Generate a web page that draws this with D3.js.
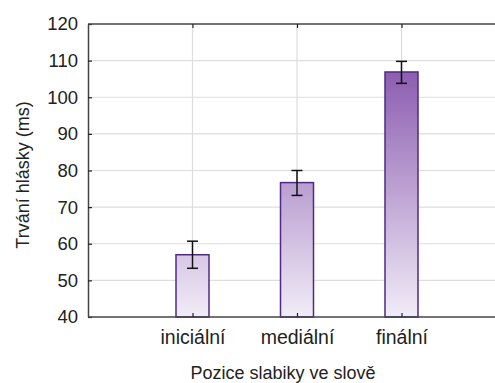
<!DOCTYPE html>
<html>
<head>
<meta charset="utf-8">
<script src="https://cdn.jsdelivr.net/npm/d3@7"></script>
<style>
  body { margin: 0; background: #fff; }
  text { font-family: "Liberation Sans", Arial, sans-serif; fill: #222; }
</style>
</head>
<body>
<svg id="chart" width="495" height="383"></svg>
<script>
const categories = ["iniciální", "mediální", "finální"];
const means = [57.0, 76.7, 106.9];
const errUpper = [60.7, 80.0, 109.8];
const errLower = [53.3, 73.2, 103.8];
const yTicks = [40, 50, 60, 70, 80, 90, 100, 110, 120];

const margin = { top: 24, left: 88 };
const plotBottom = 317;
const plotRight = 495;

const svg = d3.select("#chart");

const x = d3.scalePoint()
  .domain(categories)
  .range([margin.left, 506])
  .padding(1);

const y = d3.scaleLinear()
  .domain([40, 120])
  .range([plotBottom, margin.top]);

// gradient follows y, so lower bars are lighter at their top
const defs = svg.append("defs");
const grad = defs.append("linearGradient")
  .attr("id", "barGrad")
  .attr("gradientUnits", "userSpaceOnUse")
  .attr("x1", 0).attr("x2", 0)
  .attr("y1", y(107)).attr("y2", y(40));
grad.append("stop").attr("offset", "0%").attr("stop-color", "#8c5db0");
grad.append("stop").attr("offset", "100%").attr("stop-color", "#f1ecf7");

// grid
svg.append("g")
  .selectAll("line")
  .data(yTicks.slice(1, -1))
  .enter()
  .append("line")
  .attr("x1", margin.left).attr("x2", plotRight)
  .attr("y1", d => y(d)).attr("y2", d => y(d))
  .attr("stroke", "#dddddd")
  .attr("stroke-width", 1.2);

svg.append("g")
  .selectAll("line")
  .data(categories)
  .enter()
  .append("line")
  .attr("x1", d => x(d)).attr("x2", d => x(d))
  .attr("y1", margin.top).attr("y2", plotBottom)
  .attr("stroke", "#dddddd")
  .attr("stroke-width", 1.2);

// bars
const bw = 33;
svg.append("g")
  .selectAll("rect")
  .data(categories)
  .enter()
  .append("rect")
  .attr("x", d => x(d) - bw / 2)
  .attr("y", (d, i) => y(means[i]))
  .attr("width", bw)
  .attr("height", (d, i) => plotBottom - y(means[i]))
  .attr("fill", "url(#barGrad)")
  .attr("stroke", "#4f2a85")
  .attr("stroke-width", 1.5);

// error bars
const eb = svg.append("g").attr("stroke", "#111").attr("stroke-width", 1.5);
categories.forEach((c, i) => {
  const cx = x(c);
  eb.append("line").attr("x1", cx).attr("x2", cx)
    .attr("y1", y(errUpper[i])).attr("y2", y(errLower[i]));
  [errUpper[i], errLower[i]].forEach(v => {
    eb.append("line").attr("x1", cx - 5.5).attr("x2", cx + 5.5)
      .attr("y1", y(v)).attr("y2", y(v));
  });
});

// axes
const yAxis = svg.append("g")
  .attr("transform", `translate(${margin.left},0)`)
  .call(d3.axisLeft(y).tickValues(yTicks).tickSizeInner(-4).tickSizeOuter(0).tickPadding(10));
yAxis.select(".domain").attr("stroke", "#444").attr("stroke-width", 1.5);
yAxis.selectAll(".tick line").attr("stroke", "#222").attr("stroke-width", 1.2);
yAxis.selectAll("text").style("font-size", "18.5px").attr("fill", "#222");

const xAxis = svg.append("g")
  .attr("transform", `translate(0,${plotBottom})`)
  .call(d3.axisBottom(x).tickSizeInner(-4).tickSizeOuter(0).tickPadding(13));
xAxis.select(".domain").attr("d", `M${margin.left},0H${plotRight}`)
  .attr("stroke", "#444").attr("stroke-width", 1.5);
xAxis.selectAll(".tick line").attr("stroke", "#222").attr("stroke-width", 1.2);
xAxis.selectAll("text").style("font-size", "19.5px").attr("fill", "#222");

const topAxis = svg.append("g")
  .attr("transform", `translate(0,${margin.top})`)
  .call(d3.axisTop(x).tickSizeInner(-4).tickSizeOuter(0).tickFormat(""));
topAxis.select(".domain").attr("d", `M${margin.left},0H${plotRight}`)
  .attr("stroke", "#444").attr("stroke-width", 1.5);
topAxis.selectAll(".tick line").attr("stroke", "#222").attr("stroke-width", 1.2);

// titles
svg.append("text")
  .attr("x", 283)
  .attr("y", 379)
  .attr("text-anchor", "middle")
  .style("font-size", "18px")
  .text("Pozice slabiky ve slově");

svg.append("text")
  .attr("transform", "translate(29,175) rotate(-90)")
  .attr("text-anchor", "middle")
  .style("font-size", "18px")
  .text("Trvání hlásky (ms)");
</script>
</body>
</html>
